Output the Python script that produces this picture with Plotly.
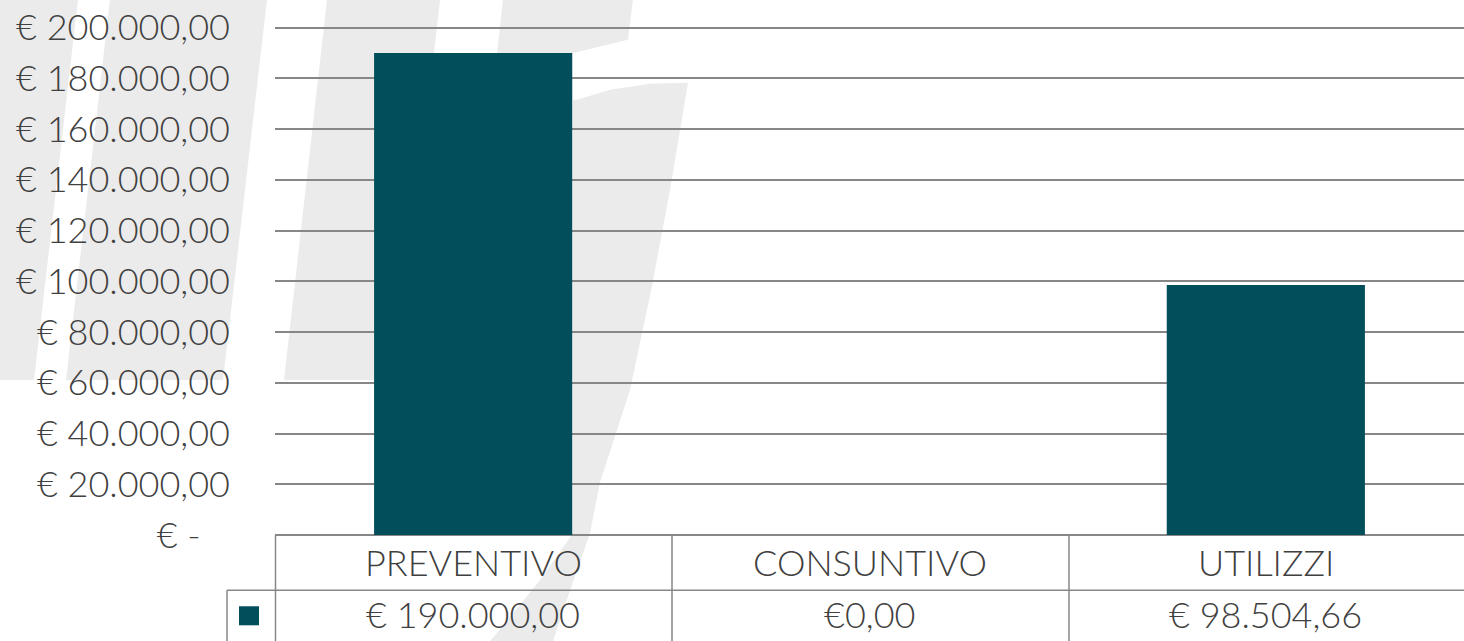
import plotly.graph_objects as go

# ---- data ----
categories = ["PREVENTIVO", "CONSUNTIVO", "UTILIZZI"]
values = [190000.00, 0.00, 98504.66]
value_labels = ["€ 190.000,00", "€0,00", "€ 98.504,66"]
y_tickvals = [0, 20000, 40000, 60000, 80000, 100000, 120000, 140000, 160000, 180000, 200000]
y_ticktext = ["€ -\u00a0\u00a0\u00a0", "€ 20.000,00", "€ 40.000,00", "€ 60.000,00", "€ 80.000,00",
              "€ 100.000,00", "€ 120.000,00", "€ 140.000,00", "€ 160.000,00", "€ 180.000,00",
              "€ 200.000,00"]

# ---- styling ----
W, H = 1464, 641
Y0_PX, YTOP_PX = 534.8, 27.8          # pixel rows of 0 and 200k
YMAX = 200600
PH = (Y0_PX - YTOP_PX) * YMAX / 200000
L, R = 275, 0
T = Y0_PX - PH
B = H - Y0_PX
PW = W - L - R
BAR = "#024f5b"
GRID = "#878787"
TXT = "#404040"
WM = "#ebebeb"
FONT = "Lato"
FS = 36
FW = 300


def px(x):
    return (x - L) / PW


def py(y):
    return (Y0_PX - y) / PH


def path(points):
    return "M " + " L ".join(f"{px(x):.5f},{py(y):.5f}" for x, y in points) + " Z"


fig = go.Figure()
fig.add_trace(go.Bar(x=categories, y=values, marker=dict(color=BAR, line=dict(width=0)),
                     width=0.5, hoverinfo="skip", showlegend=False))

shapes = []
# watermark (background logo)
wm_polys = [
    [(-120, 0), (78, 0), (34, 380), (-160, 380)],
    [(110, 0), (267, 0), (223, 380), (66, 380)],
    [(327, 0), (440, 0), (397, 380), (284, 380)],
    [(503, 0), (633, 0), (628, 40), (495, 72)],
]
for poly in wm_polys:
    shapes.append(dict(type="path", xref="paper", yref="paper", path=path(poly),
                       fillcolor=WM, line=dict(width=0), layer="below"))
hook = [(577, 100), (610, 90), (650, 84), (688, 83), (670, 190), (652, 286), (630, 390),
        (600, 482), (590, 533), (570, 590), (553, 641), (490, 641), (540, 580), (573, 533), (573, 100)]
shapes.append(dict(type="path", xref="paper", yref="paper", path=path(hook),
                   fillcolor=WM, line=dict(width=0), layer="below"))


# data table lines
def hline(x0, x1, y):
    shapes.append(dict(type="line", xref="paper", yref="paper", x0=px(x0), x1=px(x1), y0=py(y), y1=py(y),
                       line=dict(color=GRID, width=1.5), layer="above"))


def vline(x, y0, y1):
    shapes.append(dict(type="line", xref="paper", yref="paper", x0=px(x), x1=px(x), y0=py(y0), y1=py(y1),
                       line=dict(color=GRID, width=1.5), layer="above"))


hline(227, 1470, 590)
for xv in (275.5, 672, 1069):
    vline(xv, 535, 650)
vline(227, 590, 650)
# legend key
shapes.append(dict(type="rect", xref="paper", yref="paper", x0=px(239), x1=px(259), y0=py(606), y1=py(625),
                   fillcolor=BAR, line=dict(width=0)))

tfont = dict(family=FONT, size=FS, color=TXT, weight=FW)
annotations = []
for c in categories:
    annotations.append(dict(x=c, y=py(562), xref="x", yref="paper", text=c, showarrow=False,
                            font=tfont, xanchor="center", yanchor="middle"))
for c, t in zip(categories, value_labels):
    annotations.append(dict(x=c, y=py(614), xref="x", yref="paper", text=t, showarrow=False,
                            font=tfont, xanchor="center", yanchor="middle"))

fig.update_layout(
    width=W, height=H,
    margin=dict(l=L, r=R, t=T, b=B, pad=0),
    paper_bgcolor="white",
    plot_bgcolor="rgba(0,0,0,0)",
    shapes=shapes,
    annotations=annotations,
    showlegend=False,
    font=tfont,
    xaxis=dict(showticklabels=False, showgrid=False, zeroline=False, showline=False, ticks="",
               fixedrange=True),
    yaxis=dict(range=[0, YMAX], tickvals=y_tickvals, ticktext=y_ticktext, showgrid=True,
               gridcolor=GRID, gridwidth=1.5, zeroline=True, zerolinecolor=GRID, zerolinewidth=1.5,
               showline=False, ticks="", ticklabelstandoff=44,
               tickfont=tfont, fixedrange=True),
)

fig.write_html("out.html", config={"displayModeBar": False},
               post_script="document.body.style.margin='0';document.body.style.overflow='hidden';")
